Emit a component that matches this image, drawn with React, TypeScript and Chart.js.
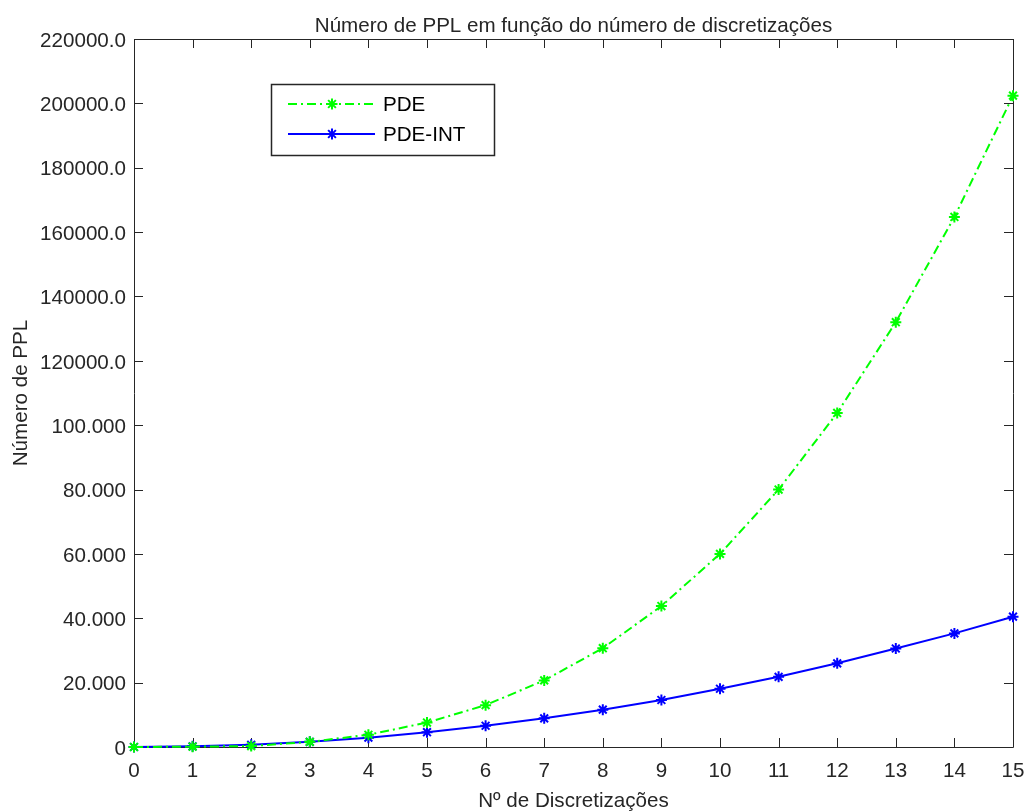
import React, { useEffect, useRef } from "react";
import { Chart, registerables } from "chart.js";

Chart.register(...registerables);

const discretizations = [0, 1, 2, 3, 4, 5, 6, 7, 8, 9, 10, 11, 12, 13, 14, 15];
const pdeValues = [0, 100, 300, 1600, 3800, 7600, 13000, 20700, 30700, 43800, 60000, 80000, 103800, 132000, 164700, 202400];
const pdeIntValues = [0, 200, 700, 1600, 2900, 4600, 6600, 8900, 11600, 14600, 18100, 21800, 26000, 30600, 35300, 40500];
const yTickLabels = ["0", "20.000", "40.000", "60.000", "80.000", "100.000", "120000.0", "140000.0", "160000.0", "180000.0", "200000.0", "220000.0"];
const seriesNames = ["PDE", "PDE-INT"];

const TITLE = "Número de PPL em função do número de discretizações";
const XTITLE = "Nº de Discretizações";
const YTITLE = "Número de PPL";
const FONT = "'Liberation Sans', Arial, Helvetica, sans-serif";
const FS = 20.6;
const AXIS = "#262626";
const GREEN = "#00ff00";
const BLUE = "#0000ff";
const DASH = [9, 4, 2, 4];

function drawStar(ctx: CanvasRenderingContext2D, x: number, y: number, r: number, color: string) {
  ctx.save();
  ctx.strokeStyle = color;
  ctx.lineWidth = 2;
  ctx.setLineDash([]);
  ctx.beginPath();
  ctx.moveTo(x - r, y); ctx.lineTo(x + r, y);
  ctx.moveTo(x, y - r); ctx.lineTo(x, y + r);
  const d = r * Math.SQRT1_2;
  ctx.moveTo(x - d, y - d); ctx.lineTo(x + d, y + d);
  ctx.moveTo(x - d, y + d); ctx.lineTo(x + d, y - d);
  ctx.stroke();
  ctx.restore();
}

const framePlugin = {
  id: "matlabFrame",
  beforeDatasetsDraw(chart: any) {
    const { ctx, chartArea: a, scales } = chart;
    ctx.save();
    ctx.strokeStyle = AXIS;
    ctx.lineWidth = 1;
    ctx.beginPath();
    ctx.rect(Math.round(a.left) + 0.5, Math.round(a.top) + 0.5, Math.round(a.right - a.left), Math.round(a.bottom - a.top));
    const tl = 9;
    scales.x.ticks.forEach((t: any) => {
      const px = Math.round(scales.x.getPixelForValue(t.value)) + 0.5;
      ctx.moveTo(px, a.bottom); ctx.lineTo(px, a.bottom - tl);
      ctx.moveTo(px, a.top); ctx.lineTo(px, a.top + tl);
    });
    scales.y.ticks.forEach((t: any) => {
      const py = Math.round(scales.y.getPixelForValue(t.value)) + 0.5;
      ctx.moveTo(a.left, py); ctx.lineTo(a.left + tl, py);
      ctx.moveTo(a.right, py); ctx.lineTo(a.right - tl, py);
    });
    ctx.stroke();
    ctx.restore();
  },
  afterDraw(chart: any) {
    const { ctx, chartArea: a } = chart;
    ctx.save();
    ctx.fillStyle = AXIS;
    ctx.font = `${FS}px ${FONT}`;
    ctx.textBaseline = "alphabetic";
    ctx.textAlign = "center";
    const cx = (a.left + a.right) / 2;
    ctx.fillText(TITLE, cx, 32);
    ctx.fillText(XTITLE, cx, 807);
    ctx.save();
    ctx.translate(27, (a.top + a.bottom) / 2);
    ctx.rotate(-Math.PI / 2);
    ctx.textAlign = "center";
    ctx.fillText(YTITLE, 0, 0);
    ctx.restore();

    // legend
    ctx.fillStyle = "#ffffff";
    ctx.fillRect(271, 84, 223, 71);
    ctx.strokeStyle = AXIS;
    ctx.lineWidth = 1.5;
    ctx.strokeRect(271.5, 84.5, 223, 71);
    const items = [
      { name: seriesNames[0], color: GREEN, dash: DASH, y: 104 },
      { name: seriesNames[1], color: BLUE, dash: [] as number[], y: 134 },
    ];
    ctx.textBaseline = "middle";
    items.forEach((it) => {
      ctx.strokeStyle = it.color;
      ctx.lineWidth = 2;
      ctx.setLineDash(it.dash);
      ctx.beginPath();
      ctx.moveTo(288, it.y);
      ctx.lineTo(375, it.y);
      ctx.stroke();
      ctx.setLineDash([]);
      drawStar(ctx, 332, it.y, 5.5, it.color);
      ctx.fillStyle = "#000000";
      ctx.textAlign = "left";
      ctx.fillText(it.name, 383, it.y + 1);
    });
    ctx.restore();
  },
};

export default function App() {
  const ref = useRef<HTMLCanvasElement | null>(null);
  useEffect(() => {
    document.body.style.margin = "0";
    const canvas = ref.current!;
    const chart = new Chart(canvas, {
      type: "line",
      data: {
        datasets: [
          {
            label: seriesNames[0],
            data: discretizations.map((x, i) => ({ x, y: pdeValues[i] })),
            borderColor: GREEN,
            backgroundColor: GREEN,
            borderWidth: 2,
            borderDash: DASH,
            pointStyle: "star",
            pointRadius: 5.5,
            pointBorderWidth: 2,
            pointBorderColor: GREEN,
            tension: 0,
            clip: false,
          } as any,
          {
            label: seriesNames[1],
            data: discretizations.map((x, i) => ({ x, y: pdeIntValues[i] })),
            borderColor: BLUE,
            backgroundColor: BLUE,
            borderWidth: 2,
            pointStyle: "star",
            pointRadius: 5.5,
            pointBorderWidth: 2,
            pointBorderColor: BLUE,
            tension: 0,
            clip: false,
          } as any,
        ],
      },
      options: {
        responsive: false,
        animation: false,
        layout: { padding: { left: 0, top: 39, right: 12, bottom: 0 } },
        plugins: { legend: { display: false }, title: { display: false }, tooltip: { enabled: false } },
        scales: {
          x: {
            type: "linear",
            min: 0,
            max: 15,
            grid: { display: false, drawTicks: false },
            border: { display: false },
            ticks: {
              stepSize: 1,
              padding: 12,
              color: AXIS,
              font: { family: FONT, size: FS },
              maxRotation: 0,
              autoSkip: false,
              callback: (v: any) => String(v),
            },
            afterFit: (s: any) => { s.height = 65; s.paddingLeft = 0; s.paddingRight = 0; },
          },
          y: {
            type: "linear",
            min: 0,
            max: 220000,
            grid: { display: false, drawTicks: false },
            border: { display: false },
            ticks: {
              stepSize: 20000,
              padding: 8,
              labelOffset: 2,
              color: AXIS,
              font: { family: FONT, size: FS },
              callback: (v: any) => yTickLabels[Math.round(Number(v) / 20000)] ?? "",
            },
            afterFit: (s: any) => { s.width = 134; s.paddingTop = 0; s.paddingBottom = 0; },
          },
        },
      },
      plugins: [framePlugin],
    });
    return () => chart.destroy();
  }, []);
  return (
    <div style={{ position: "absolute", left: 0, top: 0, width: 1025, height: 812, background: "#fff" }}>
      <canvas ref={ref} width={1025} height={812} style={{ width: 1025, height: 812, display: "block" }} />
    </div>
  );
}
